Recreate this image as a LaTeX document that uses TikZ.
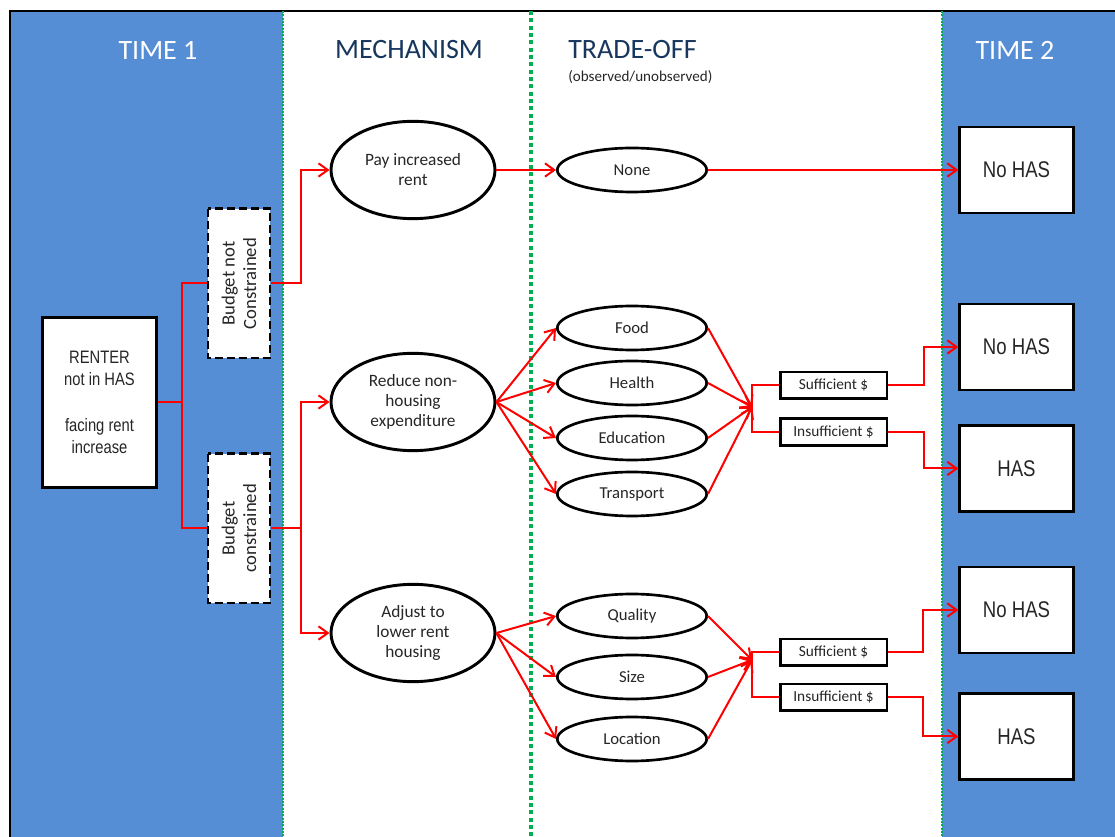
\documentclass[tikz,border=0pt]{standalone}
\usepackage{fontspec}
\setmainfont{Carlito}
\newfontfamily\narrowfont[FakeStretch=0.82]{Liberation Sans}
\usetikzlibrary{arrows.meta,shapes.geometric}

\definecolor{panelblue}{RGB}{85,142,213}
\definecolor{sepgreen}{RGB}{0,176,80}
\definecolor{headnavy}{RGB}{23,55,94}
\definecolor{labelgray}{RGB}{38,38,38}

\tikzset{
  flow/.style={draw=red, line width=1.5pt, -{Straight Barb[length=7pt,width=10pt,line width=1.5pt]}},
  link/.style={draw=red, line width=1.5pt},
  mech/.style={ellipse, draw, line width=2.2pt, fill=white, minimum width=123pt, minimum height=73pt, inner sep=0pt, align=center, text=labelgray, font=\fontsize{13}{15}\selectfont},
  trade/.style={ellipse, draw, line width=2pt, fill=white, minimum width=112pt, minimum height=33pt, inner sep=0pt, text=labelgray, font=\fontsize{12.5}{14}\selectfont},
  fund/.style={draw, line width=2pt, fill=white, minimum width=80pt, minimum height=20pt, inner sep=0pt, text=labelgray, font=\fontsize{11.5}{13}\selectfont},
  outcome/.style={draw, line width=2.2pt, fill=white, minimum width=85pt, minimum height=64.5pt, text=labelgray, font=\narrowfont\fontsize{17}{19}\selectfont},
  budgetbox/.style={draw, line width=2pt, dash pattern=on 6pt off 3pt, fill=white, rotate=90, minimum width=112pt, minimum height=46.5pt, inner sep=0pt, align=center, text=labelgray, font=\fontsize{14}{16}\selectfont},
  header/.style={font=\fontsize{21}{24}\selectfont},
  sepline/.style={draw=sepgreen, line width=1.8pt, dash pattern=on 1.5pt off 1pt}
}

\begin{document}
\begin{tikzpicture}[x=0.75pt,y=0.75pt,yscale=-1,xscale=1]
        \useasboundingbox (0,0) rectangle (1115,837);
        \fill[white] (0,0) rectangle (1115,837);

        %Shape: Panels
        \fill[panelblue] (10,11) rectangle (283,850);
        \fill[panelblue] (942,11) rectangle (1125,850);
        \draw[line width=1.5pt] (10,850) -- (10,11) -- (1125,11);
        %Straight Lines: separators
        \draw[sepline] (283,11) -- (283,850);
        \draw[sepline, line width=3pt, dash pattern=on 3pt off 2.5pt] (531,11) -- (531,850);
        \draw[sepline] (942,11) -- (942,850);

        % Text Node: headers
        \node[header, text=white] (time1) at (158,50) {TIME 1};
        \node[header, text=headnavy] (mechanism) at (409,50) {MECHANISM};
        \node[header, text=headnavy, anchor=west, inner sep=0pt] (tradeoff) at (568,50) {TRADE-OFF};
        \node[anchor=west, inner sep=0pt, text=labelgray, font=\fontsize{11.3}{13}\selectfont] (observed) at (568,77) {(observed/unobserved)};
        \node[header, text=white] (time2) at (1015,50) {TIME 2};

        % Time 1
        \node[draw, line width=2.2pt, fill=white, minimum width=86pt, minimum height=127pt, align=center, text=labelgray, font=\narrowfont\fontsize{13.5}{17}\selectfont] (renter) at (99.5,402.5) {RENTER\\not in HAS\\[17pt]facing rent\\increase};
        \node[budgetbox] (notcons) at (239,283.5) {Budget not\\Constrained};
        \node[budgetbox] (cons) at (239,528.5) {Budget\\constrained};

        % Mechanism
        \node[mech] (payrent) at (413,170) {Pay increased\\rent};
        \node[mech] (reduce) at (413,402) {Reduce non-\\housing\\expenditure};
        \node[mech] (adjust) at (413,633) {Adjust to\\lower rent\\housing};

        % Trade-off
        \node[trade] (none) at (632,170) {None};
        \node[trade] (food) at (632,328) {Food};
        \node[trade] (health) at (632,383) {Health};
        \node[trade] (education) at (632,438) {Education};
        \node[trade] (transport) at (632,494) {Transport};
        \node[trade] (quality) at (632,616) {Quality};
        \node[trade] (size) at (632,677) {Size};
        \node[trade] (location) at (632,739) {Location};

        \coordinate (joinA) at (752,407);
        \coordinate (joinB) at (752,660);
        \node[fund] (sufA) at (833.5,385.5) {Sufficient \$};
        \node[fund] (insA) at (833.5,432) {Insufficient \$};
        \node[fund] (sufB) at (833.5,652.5) {Sufficient \$};
        \node[fund] (insB) at (833.5,697.5) {Insufficient \$};

        % Time 2
        \node[outcome] (nohasA) at (1016.5,170) {No HAS};
        \node[outcome] (nohasB) at (1016.5,347) {No HAS};
        \node[outcome] (hasB) at (1016.5,468.5) {HAS};
        \node[outcome] (nohasC) at (1016.5,610) {No HAS};
        \node[outcome] (hasC) at (1016.5,736.5) {HAS};

        %Connectors
        \draw[link] (renter.east) -- ++(24,0) |- (notcons.north);
        \draw[link] (renter.east) -- ++(24,0) |- (cons.north);
        \draw[flow] (notcons.south) -- ++(30,0) |- (payrent.west);
        \draw[flow] (cons.south) -- ++(30,0) |- (reduce.west);
        \draw[flow] (cons.south) -- ++(30,0) |- (adjust.west);

        \draw[flow] (payrent.east) -- (none.west);
        \draw[flow] (none.east) -- (nohasA.west);

        \foreach \t in {food,health,education,transport}{
          \draw[flow] (reduce.east) -- (\t.west);
          \draw[flow] (\t.east) -- (joinA);
        }
        \foreach \t in {quality,size,location}{
          \draw[flow] (adjust.east) -- (\t.west);
          \draw[flow] (\t.east) -- (joinB);
        }

        \draw[link] (joinA) |- (sufA.west);
        \draw[link] (joinA) |- (insA.west);
        \draw[link] (joinB) |- (sufB.west);
        \draw[link] (joinB) |- (insB.west);

        \draw[flow] (sufA.east) -- ++(36,0) |- (nohasB.west);
        \draw[flow] (insA.east) -- ++(36,0) |- (hasB.west);
        \draw[flow] (sufB.east) -- ++(35,0) |- (nohasC.west);
        \draw[flow] (insB.east) -- ++(35,0) |- (hasC.west);

    \end{tikzpicture}
\end{document}
